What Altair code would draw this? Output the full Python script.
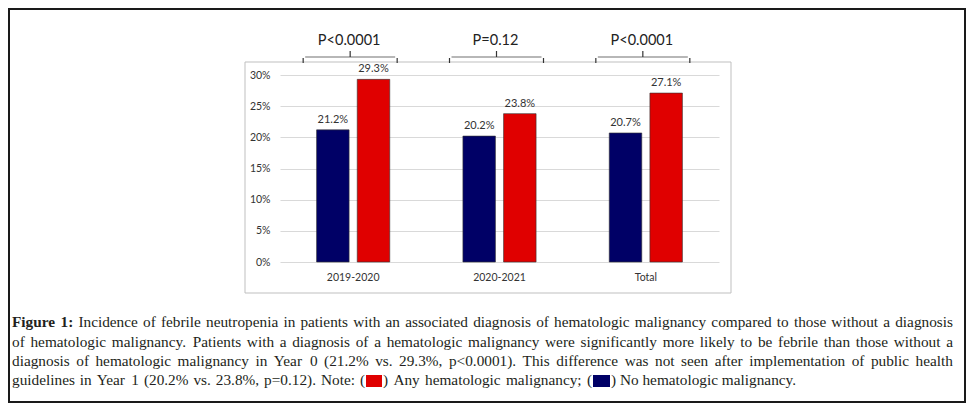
import altair as alt
import pandas as pd

# ---- data ----
categories = ["2019-2020", "2020-2021", "Total"]
groups = ["No hematologic malignancy", "Any hematologic malignancy"]
no_heme = [0.212, 0.202, 0.207]
any_heme = [0.293, 0.238, 0.271]
p_values = ["P<0.0001", "P=0.12", "P<0.0001"]
colors = ["#000066", "#e00000"]
y_ticks = [0, 0.05, 0.1, 0.15, 0.2, 0.25, 0.3]

caption_lines = [
    "Figure 1: Incidence of febrile neutropenia in patients with an associated diagnosis of hematologic malignancy compared to those without a diagnosis",
    "of hematologic malignancy. Patients with a diagnosis of a hematologic malignancy were significantly more likely to be febrile than those without a",
    "diagnosis of hematologic malignancy in Year 0 (21.2% vs. 29.3%, p<0.0001). This difference was not seen after implementation of public health",
]
last_line = ["guidelines in Year 1 (20.2% vs. 23.8%, p=0.12). Note: (",
             ") Any hematologic malignancy; (",
             ") No hematologic malignancy."]

rows = []
for c, a, b in zip(categories, no_heme, any_heme):
    rows.append({"cat": c, "grp": groups[0], "val": a})
    rows.append({"cat": c, "grp": groups[1], "val": b})
df = pd.DataFrame(rows)
pdf = pd.DataFrame({"cat": categories, "p": p_values})

# ---- layout ----
OX, OY = 280, 75          # plot origin on the page
W, H = 439, 187
SANS = "Lato"
SERIF = "Liberation Serif"
one = alt.Data(values=[{}])

# Times (Liberation Serif is metric compatible) advance widths, 1/1000 em
_R = {' ': 250, '!': 333, '%': 833, '(': 333, ')': 333, ',': 250, '-': 333, '.': 250,
      ':': 278, ';': 278, '<': 564, '=': 564, '>': 564}
for d in "0123456789":
    _R[d] = 500
_R.update(dict(zip("ABCDEFGHIJKLMNOPQRSTUVWXYZ",
                   [722, 667, 667, 722, 611, 556, 722, 722, 333, 389, 722, 611, 889, 722, 722,
                    556, 722, 667, 556, 611, 722, 722, 944, 722, 722, 611])))
_R.update(dict(zip("abcdefghijklmnopqrstuvwxyz",
                   [444, 500, 444, 500, 444, 333, 500, 500, 278, 278, 500, 278, 778, 500, 500,
                    500, 500, 333, 389, 278, 500, 500, 722, 500, 500, 444])))
_B = {'F': 611, 'i': 278, 'g': 500, 'u': 556, 'r': 444, 'e': 444, '1': 500, ':': 333, ' ': 250}

def tw(s, bold=False):
    t = _B if bold else _R
    return sum(t.get(ch, _R.get(ch, 500)) for ch in s) / 1000.0

LEFT, RIGHT = 12, 953
natural = []
for i, ln in enumerate(caption_lines):
    ws = ln.split(" ")
    tot = sum(tw(w, bold=(i == 0 and j < 2)) for j, w in enumerate(ws)) + tw(" ") * (len(ws) - 1)
    natural.append(tot)
FS = min(15.3, 0.985 * (RIGHT - LEFT) / max(natural))
BASELINES = [327, 347, 366, 385]

xs = alt.Scale(domain=categories, paddingInner=0.5, paddingOuter=0.25)
ys = alt.Scale(domain=[0, 0.3], nice=False, zero=True)
xo = alt.Scale(domain=groups, paddingInner=0.2, paddingOuter=0)
xaxis = alt.Axis(labelAngle=0, domain=False, ticks=False, labelPadding=10,
                 labelFont=SANS, labelFontSize=10.5, labelColor="#333333", title=None)
yaxis = alt.Axis(values=y_ticks, format=".0%", domain=False, ticks=False, labelPadding=10,
                 grid=True, gridColor="#d9d9d9", labelFont=SANS, labelFontSize=10.5,
                 labelColor="#333333", title=None, labelOverlap=False)

def box(x0, y0, x1, y1, stroke, sw):
    return alt.Chart(one).mark_rect(fill=None, stroke=stroke, strokeWidth=sw).encode(
        x=alt.value(x0 - OX), x2=alt.value(x1 - OX),
        y=alt.value(y0 - OY), y2=alt.value(y1 - OY))

def txt(s, px, py, align="left", weight="normal"):
    return alt.Chart(one).mark_text(
        align=align, baseline="alphabetic", font=SERIF, fontSize=FS,
        fontWeight=weight, color="#231f20").encode(
        x=alt.value(px - OX), y=alt.value(py - OY), text=alt.value(s))

def swatch(x0, x1, y0, y1, color):
    return alt.Chart(one).mark_rect(fill=color).encode(
        x=alt.value(x0 - OX), x2=alt.value(x1 - OX),
        y=alt.value(y0 - OY), y2=alt.value(y1 - OY))

def justify(text, x0, x1, y, nbold=0):
    ws = text.split(" ")
    bolds = [j < nbold for j in range(len(ws))]
    widths = [tw(w, b) * FS for w, b in zip(ws, bolds)]
    gap = (x1 - x0 - sum(widths)) / max(len(ws) - 1, 1)
    out, x = [], x0
    for w, b, wd in zip(ws, bolds, widths):
        out.append(txt(w, x, y, weight="bold" if b else "normal"))
        x += wd + gap
    return out

outer = box(9, 9, 965, 402, "#1a1a1a", 2)
panel = box(245, 62, 731, 293, "#bfbfbf", 1)

bars = alt.Chart(df).mark_bar(stroke="#333333", strokeWidth=0.6).encode(
    x=alt.X("cat:N", scale=xs, sort=categories, axis=xaxis),
    xOffset=alt.XOffset("grp:N", sort=groups, scale=xo),
    y=alt.Y("val:Q", scale=ys, axis=yaxis),
    color=alt.Color("grp:N", scale=alt.Scale(domain=groups, range=colors), legend=None),
)

labels = alt.Chart(df).mark_text(baseline="bottom", dy=-5, font=SANS, fontSize=11,
                                 color="#333333").encode(
    x=alt.X("cat:N", scale=xs, sort=categories, axis=xaxis),
    xOffset=alt.XOffset("grp:N", sort=groups, scale=xo),
    y=alt.Y("val:Q", scale=ys, axis=yaxis),
    text=alt.Text("val:Q", format=".1%"),
)

BC = "#333333"
ptext = alt.Chart(pdf).mark_text(font=SANS, fontSize=14.5, color="#222222",
                                 baseline="alphabetic", xOffset=-4).encode(
    x=alt.X("cat:N", scale=xs, sort=categories, axis=xaxis),
    y=alt.value(45 - OY),
    text="p:N",
)
bracket_h = alt.Chart(pdf).mark_tick(orient="horizontal", size=90, thickness=1.2,
                                     color=BC, xOffset=-3).encode(
    x=alt.X("cat:N", scale=xs, sort=categories, axis=xaxis),
    y=alt.value(57 - OY),
)
def vrule(off, y0, y1):
    return alt.Chart(pdf).mark_rule(color=BC, strokeWidth=1.2, xOffset=off).encode(
        x=alt.X("cat:N", scale=xs, sort=categories, axis=xaxis),
        y=alt.value(y0 - OY), y2=alt.value(y1 - OY))
bl = vrule(-50, 58, 63)
br = vrule(44, 58, 63)
bc = vrule(-3, 51, 57)

# ---- justified caption ----
caption = []
for i, ln in enumerate(caption_lines):
    caption += justify(ln, LEFT, RIGHT, BASELINES[i], nbold=2 if i == 0 else 0)

y4 = BASELINES[3]
caption += justify(last_line[0], LEFT, 365, y4)
caption.append(swatch(366, 382, y4 - 10, y4 + 2, colors[1]))
caption += justify(last_line[1], 383, 592, y4)
caption.append(swatch(593, 610, y4 - 10, y4 + 2, colors[0]))
caption.append(txt(last_line[2], 611, y4))

chart = alt.layer(outer, panel, bars, labels, ptext, bracket_h, bl, br, bc, *caption).properties(
    width=W, height=H,
    padding={"left": 272, "top": 67, "right": 247, "bottom": 141},
    autosize="none",
).configure_view(stroke=None)

chart.save("out.html", embed_options={"renderer": "svg", "actions": False})
